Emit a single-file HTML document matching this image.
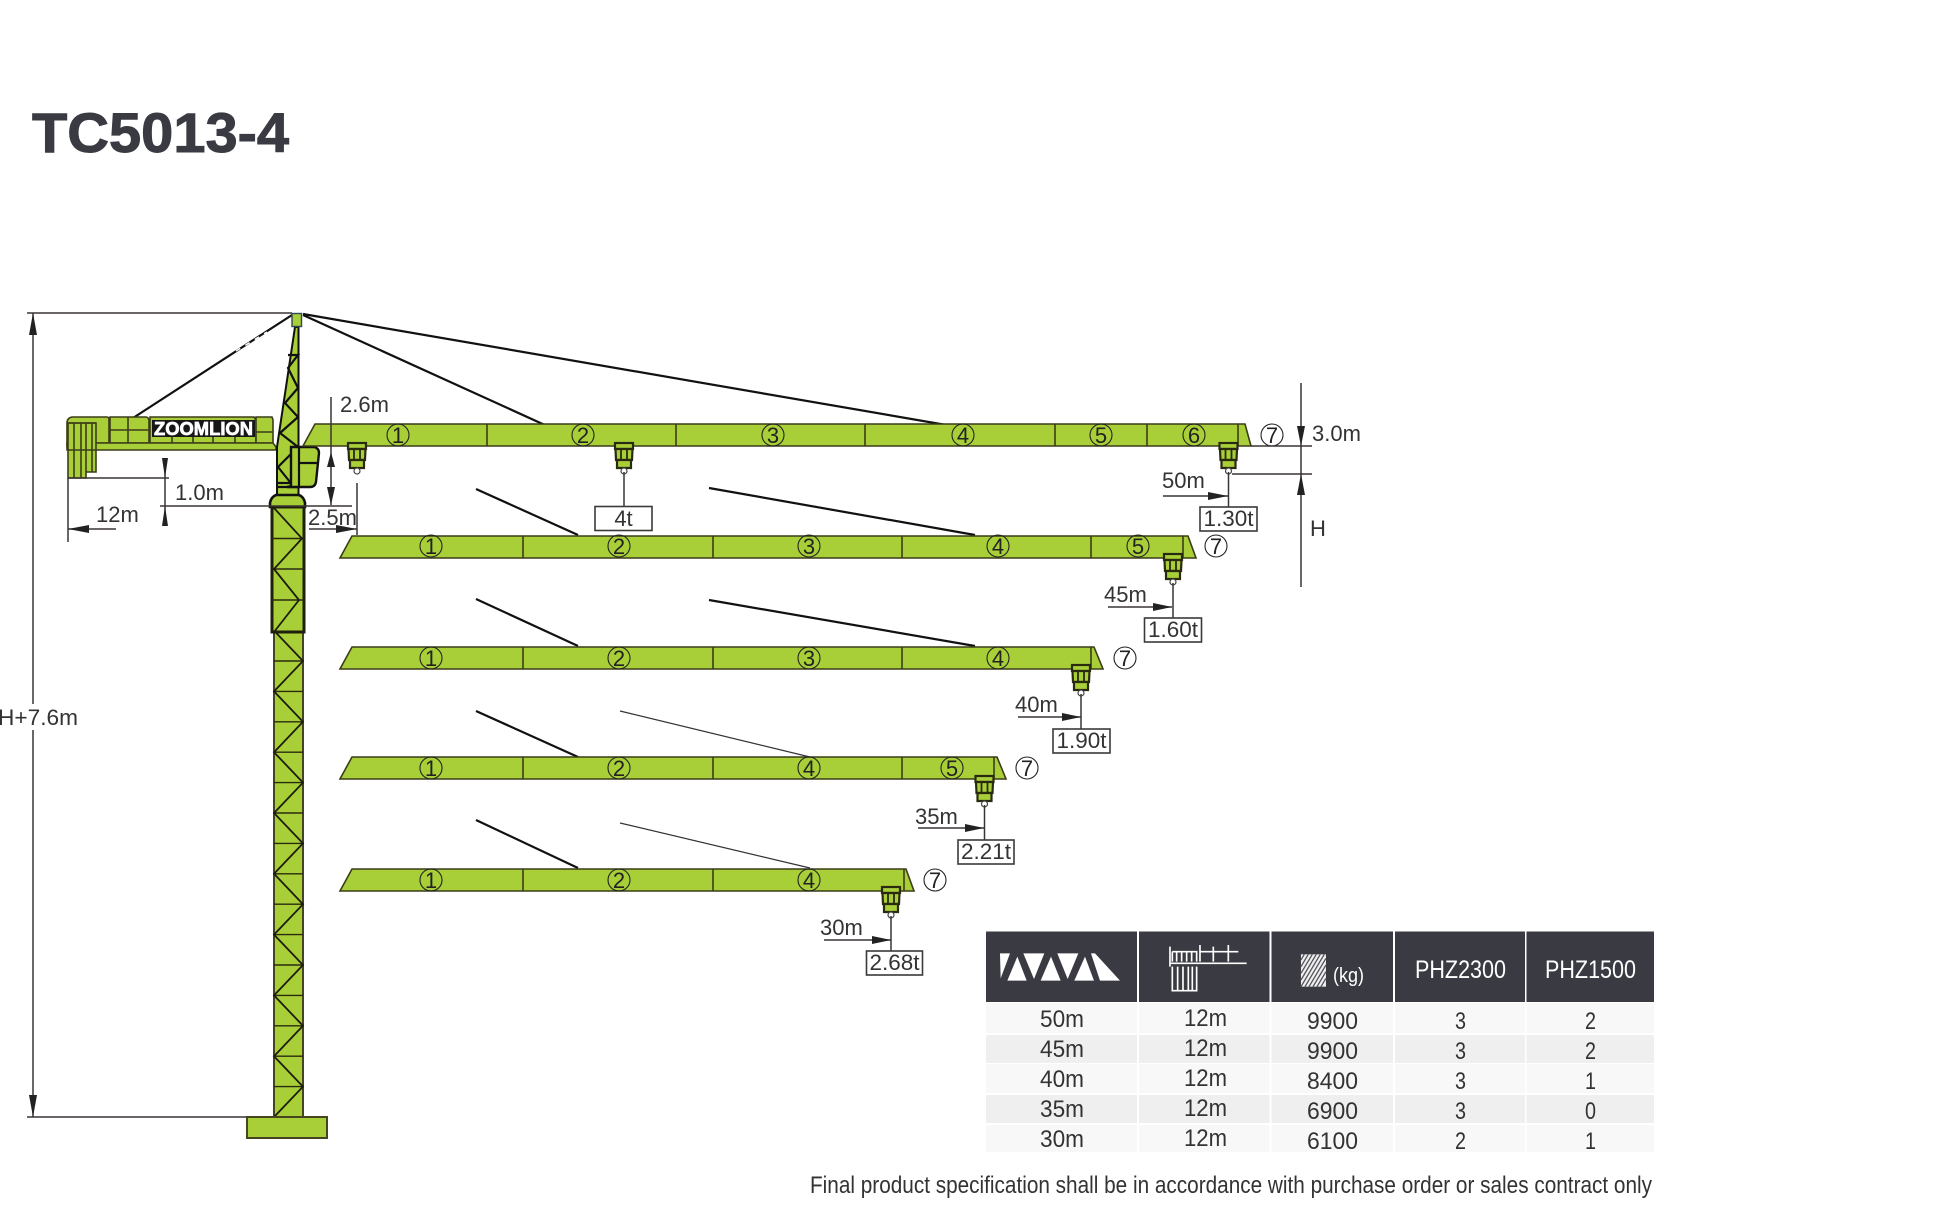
<!DOCTYPE html>
<html><head><meta charset="utf-8"><style>
html,body{margin:0;padding:0;background:#fff}
svg{display:block}
text{font-family:"Liberation Sans",sans-serif}
.d{font-size:22px;fill:#333}
.x{font-size:24px;fill:#333}
.n{font-size:22px;fill:#222;text-anchor:middle}
.t{font-size:20px;fill:#333;text-anchor:middle}
.b{fill:#a8cf38;stroke:#3c3c18;stroke-width:1.6}
.l{stroke:#3c3c18;stroke-width:1.6;fill:none}
.k{stroke:#111;stroke-width:2.2;fill:none}
.dm{stroke:#3a3535;stroke-width:1.5;fill:none}
.c{fill:none;stroke:#222;stroke-width:1.1}
.bx{fill:#fff;stroke:#3a3a3a;stroke-width:1.6}
</style></head><body>
<svg xmlns="http://www.w3.org/2000/svg" width="1949" height="1210" viewBox="0 0 1949 1210">
<defs>
<g id="tr">
<rect x="-9" y="0" width="18" height="6" fill="#a8cf38" stroke="#2a2a10" stroke-width="2.2"/>
<polygon points="-8.500,6 8.500,6 8,17 -8,17" fill="#a8cf38" stroke="#2a2a10" stroke-width="2.2"/>
<path d="M-3,7V17M3,7V17" stroke="#2a2a10" stroke-width="1.8"/>
<polygon points="-7,17 7,17 7,25 -7,25" fill="#a8cf38" stroke="#2a2a10" stroke-width="2.2"/>
<circle cx="0" cy="28" r="3" fill="#fff" stroke="#444" stroke-width="1.2"/>
</g>
</defs>
<rect width="1949" height="1210" fill="#fff"/>

<text x="32" y="152" font-size="56" font-weight="700" fill="#3a3a42" stroke="#3a3a42" stroke-width="1" textLength="257" lengthAdjust="spacingAndGlyphs">TC5013-4</text>

<!-- stay lines -->
<path d="M292,315L133,418M303,315L547,426M303,314L952,426" class="k"/>
<path d="M236,351L267,332" stroke="#fff" stroke-width="1.4" stroke-dasharray="5 6"/>

<!-- top & dims left -->
<path d="M27,313H292M33,313V1117M27,1117H247" class="dm"/>
<polygon points="33,313 29,335 37,335" fill="#222"/>
<polygon points="33,1117 29,1095 37,1095" fill="#222"/>
<rect x="0" y="704" width="78" height="26" fill="#fff"/>
<text x="-2" y="725" class="d" textLength="80" lengthAdjust="spacingAndGlyphs">H+7.6m</text>

<!-- counter jib -->
<path d="M67,447V423Q67,418 72,417H107Q109,417 109,420V443H67Z" class="b"/>
<path d="M110,443V417H146Q148,417 149,420V443Z" class="b"/>
<path d="M150,443V417H254L256,420V443Z" class="b"/>
<path d="M256,443V417H272L273,420V443Z" class="b"/>
<polygon points="67,443 273,443 276,447 276,450 67,450" class="b"/>
<path d="M128,417V443M110,430H149M172,436V443M193,436V443M213,436V443M235,436V443M256,432H273" class="l"/>
<path d="M68,450V478H86V472H96V423H68Z" fill="#a8cf38" stroke="#3c3c18" stroke-width="1.6"/>
<path d="M74,423V478M81,423V478M86,423V472M92,423V472M68,423H96M68,450H96" class="l"/>
<rect x="152" y="420" width="103" height="17" fill="#171717"/>
<text x="154" y="435" font-weight="700" fill="#fff" stroke="#fff" stroke-width="0.7" textLength="99" lengthAdjust="spacingAndGlyphs" style="font-size:18px">ZOOMLION</text>

<!-- mast top -->
<polygon points="295,327 298.500,327 298.500,497 277,497 277,447" fill="#a8cf38" stroke="#111" stroke-width="2"/>
<polyline points="288,355 298,355 288,368 298,388 285,403 298,417 280,433 298,447 278,467 290,482" class="k" stroke-width="1.8"/>
<path d="M277,483H298M277,487H298" class="k" stroke-width="1.8"/>
<path d="M291,447H314Q319,448 319,453L316,482Q315,487 310,487H287L291,486Z" fill="#a8cf38" stroke="#111" stroke-width="2.4"/>
<path d="M299,447V487M299,463H318" class="k" stroke-width="2"/>
<path d="M270,507V503Q271,497 276,495H299Q304,497 305,503V507Z" fill="#a8cf38" stroke="#111" stroke-width="2.6"/>
<rect x="292" y="313.500" width="9.500" height="13" fill="#a8cf38" stroke="#2c4a5a" stroke-width="1.4"/>

<!-- tower -->
<rect x="274" y="630" width="29" height="487" fill="#a8cf38" stroke="#45451f" stroke-width="2"/>
<path d="M274,661H303M274,691.400H303M274,721.800H303M274,752.200H303M274,782.600H303M274,813H303M274,843.400H303M274,873.800H303M274,904.200H303M274,934.600H303M274,965H303M274,995.400H303M274,1025.800H303M274,1056.200H303M274,1086.600H303" stroke="#2a2a10" stroke-width="1.4"/>
<polyline points="274,630.600 303,661 274,691.400 303,721.800 274,752.200 303,782.600 274,813 303,843.400 274,873.800 303,904.200 274,934.600 303,965 274,995.400 303,1025.800 274,1056.200 303,1086.600 274,1117" fill="none" stroke="#1d1d0c" stroke-width="1.8"/>
<rect x="272" y="507" width="32" height="125" fill="#a8cf38" stroke="#1f1f0c" stroke-width="3"/>
<path d="M272,538.500H304M272,569H304M272,600H304" stroke="#2a2a10" stroke-width="1.4"/>
<polyline points="274,508 302,538.500 274,569 299,600 274,632" fill="none" stroke="#1d1d0c" stroke-width="1.8"/>
<rect x="247" y="1117" width="80" height="21" fill="#a8cf38" stroke="#45451f" stroke-width="2"/>

<!-- boom 1 -->
<polygon points="315,424 1245,424 1251,446 303,446" class="b"/>
<path d="M487,424V446M676,424V446M865,424V446M1055,424V446M1147,424V446M1238,424V446" class="l"/>
<g class="c"><circle cx="398" cy="435" r="11"/><circle cx="583" cy="435" r="11"/><circle cx="773" cy="435" r="11"/><circle cx="963" cy="435" r="11"/><circle cx="1101" cy="435" r="11"/><circle cx="1194" cy="435" r="11"/><circle cx="1272" cy="435" r="11"/></g>
<text x="398" y="443" class="n">1</text><text x="583" y="443" class="n">2</text><text x="773" y="443" class="n">3</text><text x="963" y="443" class="n">4</text><text x="1101" y="443" class="n">5</text><text x="1194" y="443" class="n">6</text><text x="1272" y="443" class="n">7</text>

<!-- boom 2 -->
<path d="M476,489L578,535M709,488L975,535" class="k"/>
<polygon points="352,536 1188,536 1196,558 340,558" class="b"/>
<path d="M523,536V558M713,536V558M902,536V558M1091,536V558M1183,536V558" class="l"/>
<g class="c"><circle cx="431" cy="546" r="11"/><circle cx="619" cy="546" r="11"/><circle cx="809" cy="546" r="11"/><circle cx="998" cy="546" r="11"/><circle cx="1138" cy="546" r="11"/><circle cx="1216" cy="546" r="11"/></g>
<text x="431" y="554" class="n">1</text><text x="619" y="554" class="n">2</text><text x="809" y="554" class="n">3</text><text x="998" y="554" class="n">4</text><text x="1138" y="554" class="n">5</text><text x="1216" y="554" class="n">7</text>

<!-- boom 3 -->
<path d="M476,599L578,646M709,600L975,646" class="k"/>
<polygon points="352,647 1094,647 1103,669 340,669" class="b"/>
<path d="M523,647V669M713,647V669M902,647V669M1091,647V669" class="l"/>
<g class="c"><circle cx="431" cy="658" r="11"/><circle cx="619" cy="658" r="11"/><circle cx="809" cy="658" r="11"/><circle cx="998" cy="658" r="11"/><circle cx="1125" cy="658" r="11"/></g>
<text x="431" y="666" class="n">1</text><text x="619" y="666" class="n">2</text><text x="809" y="666" class="n">3</text><text x="998" y="666" class="n">4</text><text x="1125" y="666" class="n">7</text>

<!-- boom 4 -->
<path d="M476,711L578,757" class="k"/><path d="M620,711L810,757" stroke="#333" stroke-width="1.2"/>
<polygon points="352,757 997,757 1006,779 340,779" class="b"/>
<path d="M523,757V779M713,757V779M902,757V779M994,757V779" class="l"/>
<g class="c"><circle cx="431" cy="768" r="11"/><circle cx="619" cy="768" r="11"/><circle cx="809" cy="768" r="11"/><circle cx="952" cy="768" r="11"/><circle cx="1027" cy="768" r="11"/></g>
<text x="431" y="776" class="n">1</text><text x="619" y="776" class="n">2</text><text x="809" y="776" class="n">4</text><text x="952" y="776" class="n">5</text><text x="1027" y="776" class="n">7</text>

<!-- boom 5 -->
<path d="M476,820L578,868" class="k"/><path d="M620,823L810,868" stroke="#333" stroke-width="1.2"/>
<polygon points="352,869 906,869 914,891 340,891" class="b"/>
<path d="M523,869V891M713,869V891M904,869V891" class="l"/>
<g class="c"><circle cx="431" cy="880" r="11"/><circle cx="619" cy="880" r="11"/><circle cx="809" cy="880" r="11"/><circle cx="935" cy="880" r="11"/></g>
<text x="431" y="888" class="n">1</text><text x="619" y="888" class="n">2</text><text x="809" y="888" class="n">4</text><text x="935" y="888" class="n">7</text>

<!-- trolleys -->
<use href="#tr" x="357" y="443"/><use href="#tr" x="624" y="443"/><use href="#tr" x="1228.500" y="443"/>
<use href="#tr" x="1173" y="554"/><use href="#tr" x="1081" y="665"/><use href="#tr" x="984.500" y="776"/><use href="#tr" x="891" y="887"/>

<!-- hook lines and boxes -->
<path d="M624,472V507M1228.500,472V507M1173,583V618M1081,694V729M984.500,805V840M891,916V951" class="dm" stroke-width="1.8"/>
<rect x="595" y="506.500" width="57" height="24" class="bx"/><text x="623.500" y="526" class="t" style="font-size:22px">4t</text>
<rect x="1200" y="507" width="57" height="24" class="bx"/><text x="1228.500" y="526" class="t" style="font-size:22px" textLength="50" lengthAdjust="spacingAndGlyphs">1.30t</text>
<rect x="1144.500" y="618" width="57" height="24" class="bx"/><text x="1173" y="637" class="t" style="font-size:22px" textLength="50" lengthAdjust="spacingAndGlyphs">1.60t</text>
<rect x="1053" y="729" width="57" height="24" class="bx"/><text x="1081.500" y="748" class="t" style="font-size:22px" textLength="50" lengthAdjust="spacingAndGlyphs">1.90t</text>
<rect x="958" y="840" width="56" height="24" class="bx"/><text x="986" y="859" class="t" style="font-size:22px" textLength="50" lengthAdjust="spacingAndGlyphs">2.21t</text>
<rect x="866.500" y="951" width="56" height="24" class="bx"/><text x="894.500" y="970" class="t" style="font-size:22px" textLength="50" lengthAdjust="spacingAndGlyphs">2.68t</text>

<!-- distance labels -->
<text x="1162" y="488" class="d">50m</text><path d="M1163,496H1228" class="dm"/><polygon points="1228,496 1208,492 1208,500" fill="#222"/>
<text x="1104" y="602" class="d">45m</text><path d="M1108,607H1172" class="dm"/><polygon points="1172,607 1153,603 1153,611" fill="#222"/>
<text x="1015" y="712" class="d">40m</text><path d="M1018,717H1081" class="dm"/><polygon points="1081,717 1062,713 1062,721" fill="#222"/>
<text x="915" y="824" class="d">35m</text><path d="M918,828H984" class="dm"/><polygon points="984,828 965,824 965,832" fill="#222"/>
<text x="820" y="935" class="d">30m</text><path d="M824,940H891" class="dm"/><polygon points="891,940 872,936 872,944" fill="#222"/>

<!-- right dims -->
<path d="M1301,383V587M1251,446H1312M1232,474H1312" class="dm"/>
<polygon points="1301,446 1297,426 1305,426" fill="#222"/>
<polygon points="1301,474 1297,495 1305,495" fill="#222"/>
<text x="1312" y="441" class="d">3.0m</text>
<text x="1310" y="536" class="d">H</text>

<!-- left small dims -->
<path d="M331,397V505M160,506H352" class="dm"/>
<polygon points="331,452 327,467 335,467" fill="#222"/>
<polygon points="331,505 327,487 335,487" fill="#222"/>
<text x="340" y="412" class="d">2.6m</text>
<path d="M165,458V525M68,478H169" class="dm"/>
<polygon points="165,478 162,458 168,458" fill="#222"/>
<polygon points="165,506 162,526 168,526" fill="#222"/>
<text x="175" y="500" class="d">1.0m</text>
<path d="M68,478V542M68,529H116" class="dm"/>
<polygon points="68,529 89,525 89,533" fill="#222"/>
<text x="96" y="522" class="d">12m</text>
<text x="308" y="525" class="d">2.5m</text>
<path d="M309,529H357M357,483V535" class="dm"/>
<polygon points="357,529 336,525 336,533" fill="#222"/>

<!-- table -->
<g fill="#3a3a42">
<rect x="986" y="931.500" width="151" height="70.500"/><rect x="1139" y="931.500" width="130.500" height="70.500"/><rect x="1271.500" y="931.500" width="121.500" height="70.500"/><rect x="1395" y="931.500" width="130" height="70.500"/><rect x="1526.500" y="931.500" width="127.500" height="70.500"/>
</g>
<g fill="#f8f8f8">
<rect x="986" y="1003" width="151" height="30"/><rect x="1139" y="1003" width="130.500" height="30"/><rect x="1271.500" y="1003" width="121.500" height="30"/><rect x="1395" y="1003" width="130" height="30"/><rect x="1526.500" y="1003" width="127.500" height="30"/>
<rect x="986" y="1064" width="151" height="29"/><rect x="1139" y="1064" width="130.500" height="29"/><rect x="1271.500" y="1064" width="121.500" height="29"/><rect x="1395" y="1064" width="130" height="29"/><rect x="1526.500" y="1064" width="127.500" height="29"/>
<rect x="986" y="1125" width="151" height="27"/><rect x="1139" y="1125" width="130.500" height="27"/><rect x="1271.500" y="1125" width="121.500" height="27"/><rect x="1395" y="1125" width="130" height="27"/><rect x="1526.500" y="1125" width="127.500" height="27"/>
</g>
<g fill="#efefef">
<rect x="986" y="1035" width="151" height="28"/><rect x="1139" y="1035" width="130.500" height="28"/><rect x="1271.500" y="1035" width="121.500" height="28"/><rect x="1395" y="1035" width="130" height="28"/><rect x="1526.500" y="1035" width="127.500" height="28"/>
<rect x="986" y="1095" width="151" height="28"/><rect x="1139" y="1095" width="130.500" height="28"/><rect x="1271.500" y="1095" width="121.500" height="28"/><rect x="1395" y="1095" width="130" height="28"/><rect x="1526.500" y="1095" width="127.500" height="28"/>
</g>

<!-- header icons -->
<g transform="translate(985,930) scale(0.3333)">
<g fill="#fff">
<polygon points="45,70 75,70 47,145"/><polygon points="67,152 97,80 125,152"/><polygon points="115,70 178,70 147,147"/><polygon points="167,152 198,80 227,152"/><polygon points="217,70 280,70 248,147"/><polygon points="268,152 300,80 327,152"/><polygon points="318,70 330,70 405,152 345,152"/>
</g>
<g stroke="#fff" fill="none" stroke-width="5">
<path d="M555,50V110M555,100H785M645,45V95M685,50V95M730,45V95M645,65H760M562,65H635V95M562,65V95M575,65V95M590,65V95M605,65V95M620,65V95"/>
<path d="M562,110V182H635V110M578,110V182M594,110V182M610,110V182M622,110V182"/>
</g>
<rect x="948" y="73" width="75" height="97" fill="#f0f0f0"/>
<path d="M948,90L958,73M948,110L970,73M948,130L982,73M948,150L994,73M948,170L1006,73M960,170L1018,73M972,170L1023,85M984,170L1023,105M996,170L1023,125M1008,170L1023,145" stroke="#55555c" stroke-width="4" fill="none"/>
</g>
<text x="1333" y="982" fill="#fff" style="font-size:20px" textLength="31" lengthAdjust="spacingAndGlyphs">(kg)</text>
<text x="1415" y="978" fill="#fff" style="font-size:25px" textLength="91" lengthAdjust="spacingAndGlyphs">PHZ2300</text>
<text x="1545" y="978" fill="#fff" style="font-size:25px" textLength="91" lengthAdjust="spacingAndGlyphs">PHZ1500</text>

<!-- table text -->
<g>
<text x="1040" y="1027" class="x" textLength="44" lengthAdjust="spacingAndGlyphs">50m</text><text x="1184" y="1026" class="x" textLength="43" lengthAdjust="spacingAndGlyphs">12m</text><text x="1307" y="1029" class="x" textLength="51" lengthAdjust="spacingAndGlyphs">9900</text><text x="1455" y="1029" class="x" textLength="11" lengthAdjust="spacingAndGlyphs">3</text><text x="1585" y="1029" class="x" textLength="11" lengthAdjust="spacingAndGlyphs">2</text>
<text x="1040" y="1057" class="x" textLength="44" lengthAdjust="spacingAndGlyphs">45m</text><text x="1184" y="1056" class="x" textLength="43" lengthAdjust="spacingAndGlyphs">12m</text><text x="1307" y="1059" class="x" textLength="51" lengthAdjust="spacingAndGlyphs">9900</text><text x="1455" y="1059" class="x" textLength="11" lengthAdjust="spacingAndGlyphs">3</text><text x="1585" y="1059" class="x" textLength="11" lengthAdjust="spacingAndGlyphs">2</text>
<text x="1040" y="1087" class="x" textLength="44" lengthAdjust="spacingAndGlyphs">40m</text><text x="1184" y="1086" class="x" textLength="43" lengthAdjust="spacingAndGlyphs">12m</text><text x="1307" y="1089" class="x" textLength="51" lengthAdjust="spacingAndGlyphs">8400</text><text x="1455" y="1089" class="x" textLength="11" lengthAdjust="spacingAndGlyphs">3</text><text x="1585" y="1089" class="x" textLength="11" lengthAdjust="spacingAndGlyphs">1</text>
<text x="1040" y="1117" class="x" textLength="44" lengthAdjust="spacingAndGlyphs">35m</text><text x="1184" y="1116" class="x" textLength="43" lengthAdjust="spacingAndGlyphs">12m</text><text x="1307" y="1119" class="x" textLength="51" lengthAdjust="spacingAndGlyphs">6900</text><text x="1455" y="1119" class="x" textLength="11" lengthAdjust="spacingAndGlyphs">3</text><text x="1585" y="1119" class="x" textLength="11" lengthAdjust="spacingAndGlyphs">0</text>
<text x="1040" y="1147" class="x" textLength="44" lengthAdjust="spacingAndGlyphs">30m</text><text x="1184" y="1146" class="x" textLength="43" lengthAdjust="spacingAndGlyphs">12m</text><text x="1307" y="1149" class="x" textLength="51" lengthAdjust="spacingAndGlyphs">6100</text><text x="1455" y="1149" class="x" textLength="11" lengthAdjust="spacingAndGlyphs">2</text><text x="1585" y="1149" class="x" textLength="11" lengthAdjust="spacingAndGlyphs">1</text>
</g>
<text x="810" y="1193" class="x" textLength="842" lengthAdjust="spacingAndGlyphs">Final product specification shall be in accordance with purchase order or sales contract only</text>
</svg>
</body></html>
